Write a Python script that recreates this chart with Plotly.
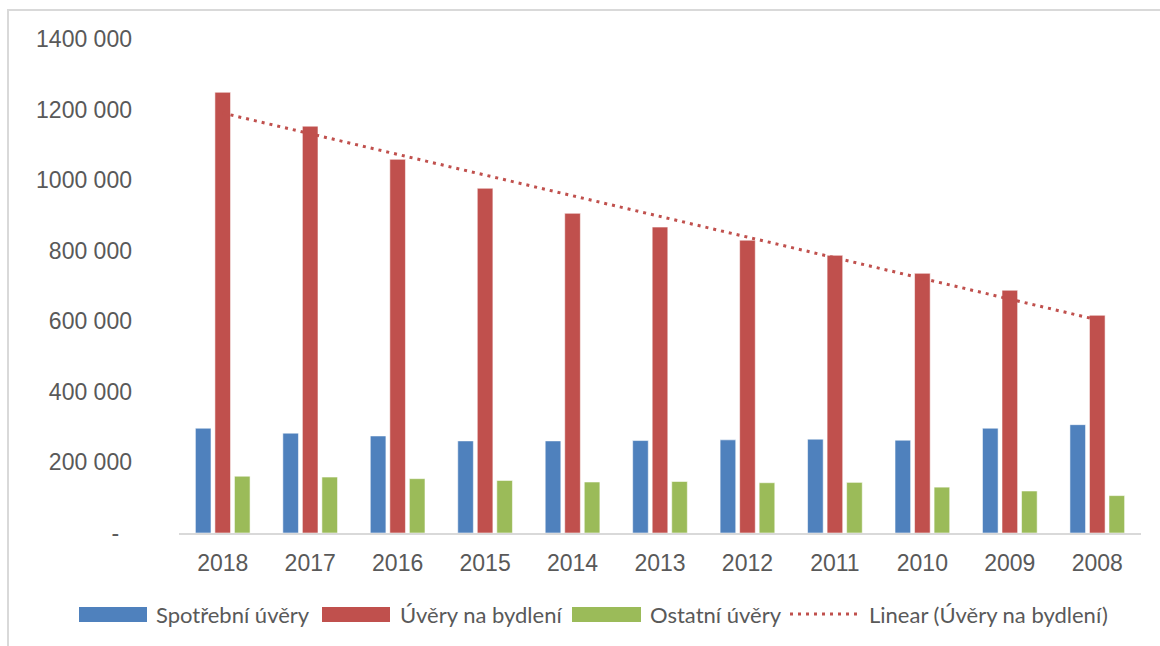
import numpy as np
import plotly.graph_objects as go

years = ["2018", "2017", "2016", "2015", "2014", "2013", "2012", "2011", "2010", "2009", "2008"]
spotrebni = [297000, 283000, 275000, 261000, 261000, 262000, 264000, 266000, 263000, 297000, 307000]
bydleni = [1249000, 1153000, 1059000, 977000, 906000, 867000, 830000, 787000, 736000, 688000, 617000]
ostatni = [161000, 158500, 154000, 149000, 144500, 146000, 142500, 143500, 130000, 119000, 106000]

tick_vals = [0, 200000, 400000, 600000, 800000, 1000000, 1200000, 1400000]
tick_text = ["-\u00a0\u00a0", "200 000", "400 000", "600 000", "800 000", "1000 000", "1200 000", "1400 000"]

legend_names = ["Spotřební úvěry", "Úvěry na bydlení", "Ostatní úvěry", "Linear (Úvěry na bydlení)"]

BLUE, RED, GREEN = "#4F81BD", "#C0504D", "#9BBB59"
GREY_TXT = "#595959"
FRAME = "#D9D9D9"

# linear trend of housing loans (computed from the data)
idx = np.arange(len(years))
k, q = np.polyfit(idx, bydleni, 1)
trend = k * idx + q

W, H = 1160, 646
L, R, T, B = 179, 19, 39, 113
PW, PH = W - L - R, H - T - B


def px(x):
    return (x - L) / PW


def py(y):
    return (H - B - y) / PH


fig = go.Figure()
edge = dict(color="rgba(255,255,255,0.55)", width=1)
fig.add_trace(go.Bar(x=years, y=spotrebni, name=legend_names[0], marker=dict(color=BLUE, line=edge)))
fig.add_trace(go.Bar(x=years, y=bydleni, name=legend_names[1], marker=dict(color=RED, line=edge)))
fig.add_trace(go.Bar(x=years, y=ostatni, name=legend_names[2], marker=dict(color=GREEN, line=edge)))
fig.add_trace(go.Scatter(x=years, y=trend, mode="lines", name=legend_names[3],
                         line=dict(color=RED, width=3, dash="3px,5px")))

tick_font = dict(family="Liberation Sans, Arial, sans-serif", size=23, color=GREY_TXT)

fig.update_layout(
    width=W, height=H,
    margin=dict(l=L, r=R, t=T, b=B),
    paper_bgcolor="white", plot_bgcolor="white",
    barmode="group", bargap=0.33, bargroupgap=0.2,
    showlegend=False,
    xaxis=dict(type="category", showgrid=False, showline=True, linecolor=FRAME, linewidth=2,
               ticks="", tickfont=tick_font, ticklabelstandoff=8, zeroline=False),
    yaxis=dict(range=[0, 1400000], tickvals=tick_vals, ticktext=tick_text, showgrid=False,
               showline=False, zeroline=False, ticks="", tickfont=tick_font, ticklabelstandoff=46),
)

shapes = []
# chart frame (extends past the right and bottom edges of the page)
shapes.append(dict(type="rect", xref="paper", yref="paper", x0=px(8), x1=px(1175), y0=py(10), y1=py(660),
                   line=dict(color=FRAME, width=2), fillcolor="rgba(0,0,0,0)", layer="below"))

leg_font = dict(family="Lato, Noto Sans, sans-serif", size=22, color=GREY_TXT)
leg_y = 614
swatches = [(79, 147, BLUE, 154), (322, 390, RED, 398), (572, 641, GREEN, 648)]
annotations = []
for i, (x0, x1, col, tx) in enumerate(swatches):
    shapes.append(dict(type="rect", xref="paper", yref="paper", x0=px(x0), x1=px(x1),
                       y0=py(622), y1=py(607), fillcolor=col, line=dict(width=0)))
    annotations.append(dict(xref="paper", yref="paper", x=px(tx), y=py(leg_y), text=legend_names[i],
                            showarrow=False, xanchor="left", yanchor="middle", font=leg_font))
shapes.append(dict(type="line", xref="paper", yref="paper", x0=px(790), x1=px(861), y0=py(leg_y), y1=py(leg_y),
                   line=dict(color=RED, width=3, dash="3px,5px")))
annotations.append(dict(xref="paper", yref="paper", x=px(867), y=py(leg_y), text=legend_names[3],
                        showarrow=False, xanchor="left", yanchor="middle", font=leg_font))

fig.update_layout(shapes=shapes, annotations=annotations)
fig.write_html("out.html")
